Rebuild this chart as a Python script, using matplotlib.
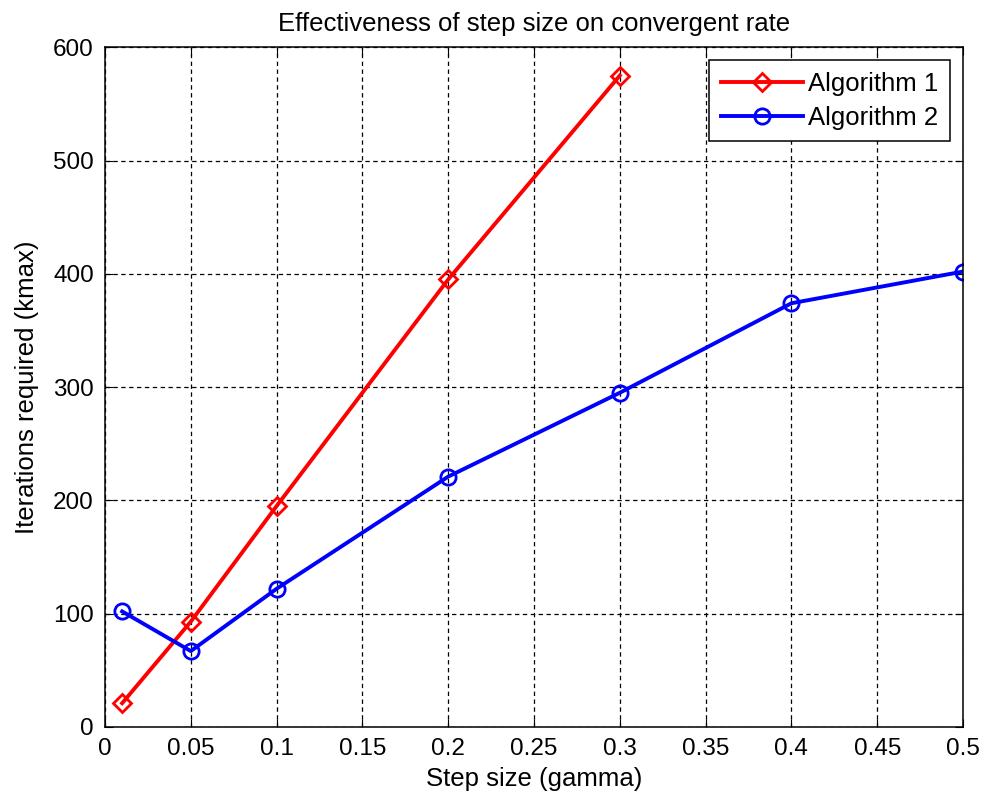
import matplotlib.pyplot as plt
import numpy as np

plt.rcParams['font.family'] = ['Liberation Sans', 'DejaVu Sans']

step = [0.01, 0.05, 0.1, 0.2, 0.3, 0.4, 0.5]
alg1 = [21, 93, 195, 395, 575]
alg2 = [102, 67, 122, 221, 295, 374, 402]
xticks = [0, 0.05, 0.1, 0.15, 0.2, 0.25, 0.3, 0.35, 0.4, 0.45, 0.5]
xticklabels = ['0', '0.05', '0.1', '0.15', '0.2', '0.25', '0.3', '0.35', '0.4', '0.45', '0.5']

fig = plt.figure(figsize=(9.84, 7.96), dpi=100)
ax = fig.add_axes([0.1067, 0.0867, 0.872, 0.854])

ax.plot(step[:len(alg1)], alg1, color='red', marker='D', markersize=9,
        markerfacecolor='none', markeredgewidth=2, linewidth=2.8, label='Algorithm 1')
ax.plot(step, alg2, color='blue', marker='o', markersize=11,
        markerfacecolor='none', markeredgewidth=2, linewidth=2.8, label='Algorithm 2')

ax.set_xlim(0, 0.5)
ax.set_ylim(0, 600)
ax.set_xticks(xticks)
ax.set_xticklabels(xticklabels)
ax.set_yticks(np.arange(0, 601, 100))
ax.tick_params(direction='in', labelsize=17.5, length=6, pad=8, top=True, right=True)
ax.grid(True, color='black', linestyle=(0, (3.5, 2.8)), linewidth=0.9)
for s in ax.spines.values():
    s.set_linewidth(1.1)

ax.set_xlabel('Step size (gamma)', fontsize=18.5, labelpad=5)
ax.set_ylabel('Iterations required (kmax)', fontsize=18.5, labelpad=10)
ax.set_title('Effectiveness of step size on convergent rate', fontsize=18.5, pad=12)

leg = ax.legend(loc='upper right', fontsize=18.5, fancybox=False, framealpha=1,
                edgecolor='black', handlelength=3.2, handletextpad=0.2,
                labelspacing=0.4, borderpad=0.45, borderaxespad=0.5)
leg.get_frame().set_linewidth(1.1)

fig.savefig('out.png', dpi=100)
